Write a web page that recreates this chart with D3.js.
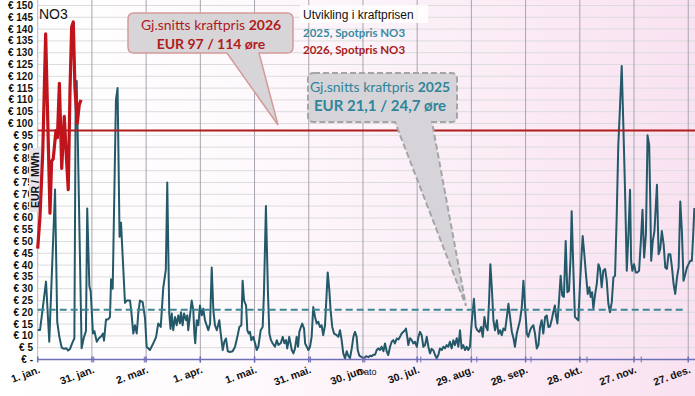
<!DOCTYPE html>
<html><head><meta charset="utf-8">
<script src="https://cdn.jsdelivr.net/npm/d3@7"></script>
<style>
html,body{margin:0;padding:0;background:#fff;}
svg{display:block;}
</style></head>
<body><svg id="c" width="695" height="396"></svg>
<script>
// ---------- DATA ----------
const tickDays = [0,30,60,90,120,150,180,210,240,270,300,330,360];
const tickLabels = ["1. jan.","31. jan.","2. mar.","1. apr.","1. mai.","31. mai.","30. jun.","30. jul.","29. aug.","28. sep.","28. okt.","27. nov.","27. des."];
const monthStartDays = [31,59,90,120,151,181,212,243,273,304,334];
const yTicks = d3.range(0,151,5);

const days2026 = [0,1.3,2.8,4.4,6.8,7.7,8.6,10.1,10.9,12,13.3,14.7,16,16.9,17.9,18.8,19.7,20.6,21.9,23,24];
const price2026 = [47,61,88,138,62,84,85,97,94,117,81,103,84,72,115,141,143,115,100,108,110];

const days2025 = [0,1.3,4.6,6.4,9.6,10.8,12,13.3,14.6,15.7,16.8,17.9,19.1,20.3,21,21.6,24.3,25.6,26.7,27.4,28.6,29.3,30.6,31.4,32.7,33.9,35.3,36.1,36.7,37.8,38.9,40,40.6,41.5,43.3,44.2,45.3,46.1,48.3,49.3,51.1,52,52.9,53.8,54.8,55.7,56.6,58.1,59.4,60.3,62.1,64,65.5,66.7,68.1,69.5,70.9,71.7,72.8,73.5,74.2,75,76,76.9,77.8,78.7,79.3,80.2,81,82.1,82.8,83.3,84.3,85.2,86.1,86.7,87.2,88,88.9,89.8,90.8,91.6,92.6,93.5,94.4,95.4,96.3,97.2,98.1,99.1,100.5,101.3,102.4,103.3,104.2,105.2,106.4,107.9,109.2,110.5,111.6,112.7,113.4,114.2,115.3,116,116.8,117.5,118.2,119.3,120.3,121.2,122.1,123.4,124.5,125.2,126.3,127.4,128.2,129.1,130,131.3,132.3,133.2,134.5,135.6,136.5,137.4,138.1,139.2,140.6,141.5,142.4,143.3,144.1,144.8,145.7,146.4,147.4,148,148.9,149.8,150.7,151.6,152.5,153.5,154.4,155.3,156.2,157.1,158,159,159.9,160.5,161.4,162.1,163,164,165.5,166.4,167.3,168.2,169.1,170.1,171,171.9,172.8,173.8,174.7,175.6,176.5,177.1,178,179.3,180.6,181.7,183,183.9,185,185.7,186.7,187.6,188.5,189.4,190.3,191.3,192.2,193.1,194,195,195.9,196.8,197.7,198.7,199.6,200.5,201.4,202.3,203.3,203.8,204.5,205.1,206,207,207.9,208.8,209.8,210.7,211.6,212.5,213.4,214.3,215.3,216.2,217.1,218,219,219.9,220.8,221.7,222.6,223.6,224.5,225.4,226.3,227.2,228.1,229.1,230,230.9,231.9,232.8,233.7,234.6,235.5,236.5,237.4,238.3,239.2,240.2,241.4,242.4,243.3,244.4,245.4,246.3,247.2,248.1,249,249.8,250.5,251.3,252.2,253.1,254.1,255,255.9,256.8,257.7,258.7,259.6,260.5,261.4,262.4,263.3,264.1,265.1,266,266.9,267.9,268.8,269.7,270.7,271.5,272.5,273.4,274.3,275.2,276.2,277.1,278,278.9,279.8,280.8,281.7,282.6,283.5,284.4,285.3,286.2,286.8,287.6,288.5,289.4,290.3,291.2,292.2,293.1,294,294.9,295.5,296.4,297.3,298.2,299.2,300.1,301,301.6,302.5,303.4,304.4,305.3,306,306.8,307.5,308.5,309.4,310.3,311.2,312.1,313,314,314.9,315.8,316.7,317.7,318.6,319.5,320.4,321.3,322.2,323.2,324.1,325,326,326.9,327.8,328.4,329.1,330,331,331.9,332.8,333.8,334.7,335.6,336.6,337.5,338.4,339,339.5,340.4,341.3,342.7,343.6,344.5,345.4,346.4,347.3,348.2,349.1,350.1,351,351.9,352.8,353.8,354.7,355.6,356.5,357.4,358.4,359.3,360.2,361.1,362,362.7,363.4];
const price2025 = [12.5,12.5,33,7.5,72,16,9.5,5,4.5,4.8,3.8,4.5,6.9,9,110,118,4.8,9.5,12,64,31,29,11,12,7.5,9,10,11,8,17,17,18,34,30,110,115,52,58,24,25,25,18.7,11,14.5,11,20,25,24.3,17.4,5.4,4,6.9,9.5,15.3,13.8,30.6,38,75,19.5,13,19.5,12.4,18,14.5,18.7,15.3,20,14.5,19.5,16.6,18.7,12.4,18.7,25,21,11,6.9,16.6,14.5,22.9,18.7,21.5,16.6,14.5,12.4,15.3,39,21,14.5,12.4,16.6,11,4,7.5,8.9,3.5,3.2,3.5,5.4,9.6,13.8,14.5,33.4,25,22.9,12.4,11,11.7,8.2,9.6,6.9,4,5.4,12.4,13.8,27.9,65,29,11,8.2,6.9,5.4,8.2,6.2,6.9,9.6,6.9,8.2,4.7,9.6,4,2.6,4.7,9.6,5.4,11.7,13.8,15.2,13.1,6.8,5.4,4,5.4,9.6,22.2,18,15.2,16,13.8,14.5,10.3,14.5,27.8,36.9,29.2,20.8,13.8,11,10.3,9.6,12.4,8.2,2.6,0.5,3.5,1.6,0.5,4.7,9.6,11.7,9.6,4,1.6,1,0.5,1.4,1,1.6,1.4,2,2,4,4.7,4,5.4,3.5,6.8,3.5,1.9,5.4,7.5,8.2,6.8,8.9,8.5,9.6,11,11.7,12.4,13.1,9.6,6.1,9,8.2,6.8,7.5,5.4,9.6,11.7,10.3,5.4,6,9.6,5.4,2.6,4.5,3.8,1.9,0.5,1.9,4.7,4,5.4,4.7,6.1,5.4,7.5,4.7,8.2,6.1,9,5.4,12.4,4.7,6.1,4,5.4,4,5.4,15.9,25.7,13.8,12.4,11.7,13.8,9.6,18,13.8,12.4,25,40.4,30.6,16.6,12.4,16.6,10.9,12.4,10.3,13.1,12.4,18,23.6,18,11.7,9,5.4,11,13.8,16.6,22.2,33.4,22.2,11,9.6,12.4,13.8,14.5,11,4.7,6.1,13.8,16.6,11,18,18.7,13.8,14,16.6,20,22.9,18.7,15.3,25,35.5,27.1,26.5,50.2,28.5,29,43.2,62.8,39,18,17.4,16.6,32,44.6,52.3,44.6,36.2,27.8,30.6,26.5,28.5,21.5,27.8,32,40.4,38.4,30.6,37.6,38.4,33.4,23.6,20,24.3,34.8,35.5,60,90.8,106.2,124.4,99.2,72.6,37.6,53,71.9,41.8,37.6,40.4,36.9,36.9,37.6,50.2,63.5,43.2,53,95,90.8,67,41.8,50.2,54.4,74,44.6,46.7,54.4,48.8,39,38.4,44.6,44.6,39,32,27.8,34.8,39,67,54.4,33.4,36.2,39,40.4,41.8,41.8,52,64.2];

const avg2025 = 21.1;
const avg2026 = 97;

// ---------- CHART ----------
const svg = d3.select("#c");
const W = 695, H = 396;
const x = d3.scaleLinear().domain([0,365]).range([37.7, 37.7 + 365*1.807]);
const y = d3.scaleLinear().domain([0,150]).range([359.5, 5.5]);

const defs = svg.append("defs");
const grad = defs.append("linearGradient").attr("id","bg").attr("x1","0").attr("x2","1").attr("y1","0").attr("y2","0");
grad.append("stop").attr("offset","0%").attr("stop-color","#ffffff");
grad.append("stop").attr("offset","30%").attr("stop-color","#fefbfd");
grad.append("stop").attr("offset","100%").attr("stop-color","#f9e2f1");
svg.append("rect").attr("width",W).attr("height",H).attr("fill","url(#bg)");

// horizontal grid
svg.append("g").selectAll("line").data(yTicks.filter(d=>d>0)).join("line")
  .attr("x1", x(0)).attr("x2", W).attr("y1", d=>y(d)).attr("y2", d=>y(d))
  .attr("stroke","#dcdcdc").attr("stroke-width",1);
// vertical grid
svg.append("g").selectAll("line").data(tickDays.filter(d=>d>0)).join("line")
  .attr("x1", d=>x(d)).attr("x2", d=>x(d)).attr("y1", 0).attr("y2", y(0))
  .attr("stroke","#a8a4b0").attr("stroke-width",1);
// y axis line
svg.append("line").attr("x1",x(0)).attr("x2",x(0)).attr("y1",0).attr("y2",y(0))
  .attr("stroke","#b8b4d0").attr("stroke-width",1);

// y labels
svg.append("g").selectAll("text").data(yTicks).join("text")
  .attr("x", 33).attr("y", d=>y(d)).attr("dy","0.35em")
  .attr("text-anchor","end")
  .attr("font-family","Liberation Sans, Arial, sans-serif").attr("font-weight","bold")
  .attr("font-size", 10).attr("fill","#111")
  .text(d => d===0 ? "€ -" : "€ " + d);

// y title
const yt = svg.append("g").attr("transform", `translate(35,180) rotate(-90)`);
yt.append("rect").attr("x",-32).attr("y",-6).attr("width",64).attr("height",12).attr("fill","#e6e3ea");
yt.append("text").attr("text-anchor","middle").attr("dy","0.36em")
  .attr("font-family","Liberation Sans, Arial, sans-serif").attr("font-weight","bold")
  .attr("font-size",10.5).attr("fill","#111").text("EUR / MWh");

// NO3
svg.append("text").attr("x",39).attr("y",19).attr("font-family","Liberation Sans, Arial, sans-serif")
  .attr("font-size",14).attr("fill","#111").text("NO3");

// data lines
const line = d3.line().x(d=>x(d[0])).y(d=>y(d[1]));
svg.append("path").datum(days2025.map((d,i)=>[d,price2025[i]]))
  .attr("d", line).attr("fill","none").attr("stroke","#24596a").attr("stroke-width",2).attr("stroke-linejoin","round");

// average lines
svg.append("line").attr("x1",x(0)).attr("x2",W).attr("y1",y(avg2026)).attr("y2",y(avg2026))
  .attr("stroke","#b01c1c").attr("stroke-width",2);
svg.append("line").attr("x1",x(0)).attr("x2",684).attr("y1",y(avg2025)).attr("y2",y(avg2025))
  .attr("stroke","#3d8595").attr("stroke-width",2).attr("stroke-dasharray","7,4");

svg.append("path").datum(days2026.map((d,i)=>[d,price2026[i]]))
  .attr("d", line).attr("fill","none").attr("stroke","#c0141c").attr("stroke-width",3.2).attr("stroke-linejoin","round");

// x axis
svg.append("line").attr("x1",x(0)).attr("x2",W).attr("y1",y(0)).attr("y2",y(0))
  .attr("stroke","#6f6fb8").attr("stroke-width",1.5);
svg.append("g").selectAll("line").data(tickDays).join("line")
  .attr("x1",d=>x(d)).attr("x2",d=>x(d)).attr("y1",y(0)-3).attr("y2",y(0)+3)
  .attr("stroke","#6f6fb8").attr("stroke-width",1.5);
svg.append("g").selectAll("line").data(monthStartDays).join("line")
  .attr("x1",d=>x(d)).attr("x2",d=>x(d)).attr("y1",y(0)-3).attr("y2",y(0)+3)
  .attr("stroke","#6f6fb8").attr("stroke-width",1);

svg.append("g").selectAll("text").data(tickDays).join("text")
  .attr("transform", d=>`translate(${x(d)+3},${y(0)+13}) rotate(-20)`)
  .attr("text-anchor","end")
  .attr("font-family","Liberation Sans, Arial, sans-serif").attr("font-weight","bold")
  .attr("font-size",10.5).attr("fill","#111")
  .text((d,i)=>tickLabels[i]);

svg.append("text").attr("x",367).attr("y",375).attr("text-anchor","middle")
  .attr("font-family","Liberation Sans, Arial, sans-serif").attr("font-size",9).attr("fill","#111").text("Dato");

// legend
svg.append("rect").attr("x",300).attr("y",5).attr("width",128).attr("height",18).attr("fill","#ffffff").attr("opacity",0.85);
svg.append("text").attr("x",303).attr("y",19).attr("font-family","Liberation Sans, Arial, sans-serif")
  .attr("font-size",12).attr("fill","#111").text("Utvikling i kraftprisen");
svg.append("text").attr("x",303).attr("y",37).attr("font-family","Lato, Open Sans, sans-serif").attr("font-weight","bold")
  .attr("font-size",11.5).attr("fill","#3a8ba0").text("2025, Spotpris NO3");
svg.append("text").attr("x",303).attr("y",54).attr("font-family","Lato, Open Sans, sans-serif").attr("font-weight","bold")
  .attr("font-size",11.5).attr("fill","#a81c1c").text("2026, Spotpris NO3");

// callout 2026
const c26 = svg.append("g");
c26.append("path")
  .attr("d", "M134,13 H287 Q293,13 293,19 V47 Q293,53 287,53 H259 L278,125 L227,53 H134 Q128,53 128,47 V19 Q128,13 134,13 Z")
  .attr("fill","#d8d5d8").attr("stroke","#d49a9a").attr("stroke-width",1.5);
const t26 = c26.append("text").attr("x",211).attr("y",30).attr("text-anchor","middle")
  .attr("font-family","Lato, Open Sans, sans-serif").attr("font-size",14).attr("fill","#b01c1c");
t26.append("tspan").text("Gj.snitts kraftpris ");
t26.append("tspan").attr("font-weight","bold").text("2026");
c26.append("text").attr("x",211).attr("y",49).attr("text-anchor","middle")
  .attr("font-family","Lato, Open Sans, sans-serif").attr("font-size",14).attr("font-weight","bold").attr("fill","#b01c1c")
  .text("EUR 97 / 114 øre");

// callout 2025
const c25 = svg.append("g");
c25.append("path")
  .attr("d", "M314,73 H451 Q457,73 457,79 V116 Q457,122 451,122 H432 L466,306 L395,122 H314 Q308,122 308,116 V79 Q308,73 314,73 Z")
  .attr("fill","#d6d4d8").attr("stroke","#a5a5a8").attr("stroke-width",2).attr("stroke-dasharray","6,3");
const t25 = c25.append("text").attr("x",380).attr("y",92).attr("text-anchor","middle")
  .attr("font-family","Lato, Open Sans, sans-serif").attr("font-size",14).attr("fill","#2f8599");
t25.append("tspan").text("Gj.snitts kraftpris ");
t25.append("tspan").attr("font-weight","bold").text("2025");
c25.append("text").attr("x",380).attr("y",111).attr("text-anchor","middle")
  .attr("font-family","Lato, Open Sans, sans-serif").attr("font-size",15).attr("font-weight","bold").attr("fill","#2f8599")
  .text("EUR 21,1 / 24,7 øre");
</script></body></html>
